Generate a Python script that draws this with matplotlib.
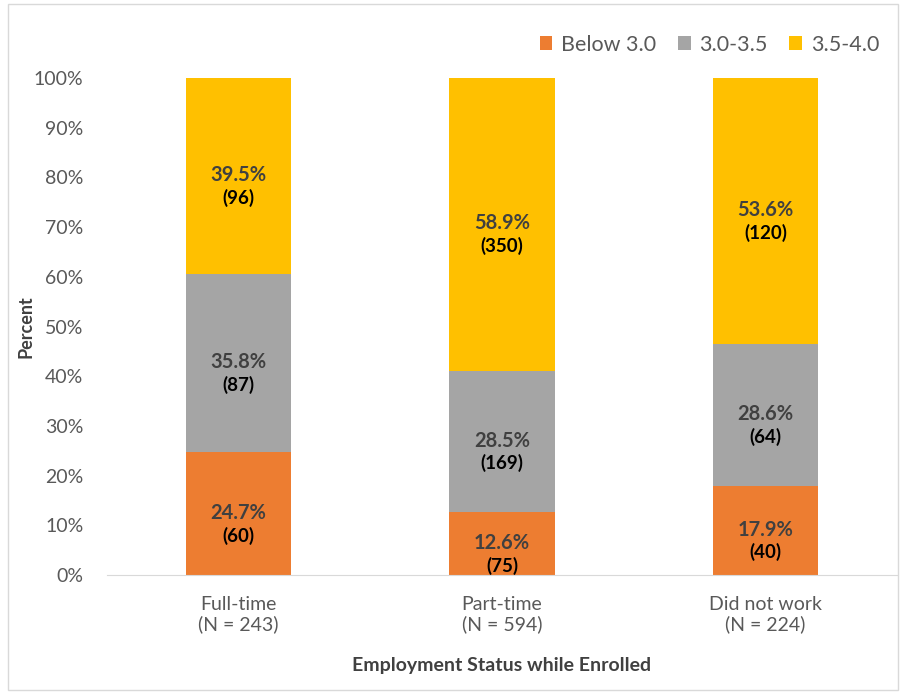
import numpy as np
import matplotlib
matplotlib.use('Agg')
import matplotlib.pyplot as plt
from matplotlib.patches import Rectangle

plt.rcParams['font.family'] = ['Lato', 'DejaVu Sans']

# Data
categories = ['Full-time\n(N = 243)', 'Part-time\n(N = 594)', 'Did not work\n(N = 224)']
series_names = ['Below 3.0', '3.0-3.5', '3.5-4.0']
below_pct = [24.7, 12.6, 17.9]
mid_pct = [35.8, 28.5, 28.6]
top_pct = [39.5, 58.9, 53.6]
below_n = [60, 75, 40]
mid_n = [87, 169, 64]
top_n = [96, 350, 120]
colors = ['#ED7D31', '#A5A5A5', '#FFC000']

pcts = [below_pct, mid_pct, top_pct]
counts = [below_n, mid_n, top_n]

fig = plt.figure(figsize=(9.02, 6.93), dpi=100)
ax = fig.add_axes([0.1186, 0.1703, 0.876, 0.7171])

x = np.arange(len(categories))
bottom = np.zeros(len(categories))
for name, vals, ns, col in zip(series_names, pcts, counts, colors):
    vals = np.array(vals)
    ax.bar(x, vals, 0.4, bottom=bottom, color=col, label=name)
    for xi, b, v, n in zip(x, bottom, vals, ns):
        mid = b + v / 2
        ax.text(xi, mid + 0.2, f'{v:.1f}%', ha='center', va='center',
                fontsize=14.5, fontweight='bold', color='#404040')
        ax.text(xi, mid - 4.4, f'({n})', ha='center', va='center',
                fontsize=13.5, fontweight='bold', color='black')
    bottom += vals

ax.set_xlim(-0.5, len(categories) - 0.5)
ax.set_ylim(0, 100)
ax.set_yticks(np.arange(0, 101, 10))
ax.set_yticklabels([f'{v}%' for v in range(0, 101, 10)])
ax.set_xticks(x)
ax.set_xticklabels(categories, linespacing=1.15)
ax.tick_params(axis='both', length=0, labelsize=14, colors='#595959')
ax.tick_params(axis='y', pad=17)
ax.tick_params(axis='x', pad=15)
for s in ['top', 'right', 'left']:
    ax.spines[s].set_visible(False)
ax.spines['bottom'].set_color('#D9D9D9')

ax.set_xlabel('Employment Status while Enrolled', fontsize=14, fontweight='bold',
              color='#404040', labelpad=17)
ax.set_ylabel('Percent', fontsize=13, fontweight='bold', color='#404040')
ax.yaxis.set_label_coords(-0.092, 0.5)

ax.legend(loc='lower right', bbox_to_anchor=(0.988, 1.03), ncol=3, frameon=False,
          fontsize=15.5, labelcolor='#595959', handlelength=0.6, handleheight=0.6,
          handletextpad=0.4, columnspacing=1.0, borderaxespad=0)

fig.patches.append(Rectangle((0.009, 0.004), 0.987, 0.99, transform=fig.transFigure,
                             fill=False, edgecolor='#D9D9D9', linewidth=1))

fig.savefig('out.png', dpi=100)
